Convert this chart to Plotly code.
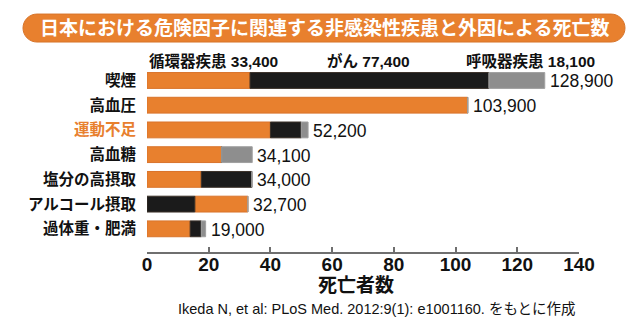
import plotly.graph_objects as go

# ---- data (thousands of deaths) ----
categories = ['喫煙', '高血圧', '運動不足', '高血糖', '塩分の高摂取', 'アルコール摂取', '過体重・肥満']
circulatory = [33.4, 103.9, 40.0, 24.2, 17.6, 17.2, 14.0]
cancer = [77.4, 0.0, 10.0, 0.0, 16.4, 15.5, 3.6]
respiratory = [18.1, 0.0, 2.2, 9.9, 0.0, 0.0, 1.4]
totals = [128.9, 103.9, 52.2, 34.1, 34.0, 32.7, 19.0]
total_labels = ['128,900', '103,900', '52,200', '34,100', '34,000', '32,700', '19,000']
# stacking order per row (alcohol starts with cancer)
stack_order = [['c', 'k', 'r'], ['c', 'k', 'r'], ['c', 'k', 'r'], ['c', 'k', 'r'],
               ['c', 'k', 'r'], ['k', 'c', 'r'], ['c', 'k', 'r']]
legend_labels = ['循環器疾患 33,400', 'がん 77,400', '呼吸器疾患 18,100']
title_text = '日本における危険因子に関連する非感染性疾患と外因による死亡数'
x_title = '死亡者数'
source_text = 'Ikeda N, et al: PLoS Med. 2012:9(1): e1001160. をもとに作成'
x_ticks = [0, 20, 40, 60, 80, 100, 120, 140]

ORANGE = '#E8802E'
BLACK = '#1b1b1b'
GRAY = '#8e8e8e'
FONT = 'Liberation Sans, Arial, Noto Sans CJK JP, sans-serif'

series = {'c': (circulatory, ORANGE, '#d9732a'),
          'k': (cancer, BLACK, '#3a3028'),
          'r': (respiratory, GRAY, '#a0a0a0')}

# compute bases from stacking order
bases = {k: [0.0] * len(categories) for k in series}
for i, order in enumerate(stack_order):
    acc = 0.0
    for k in order:
        bases[k][i] = acc
        acc += series[k][0][i]

W, H = 638, 331
L, R_PX, TOP, BOT = 147, 579, 60, 252.2
ML, MR, MT, MB = L, W - R_PX, TOP, H - BOT
PW, PH = R_PX - L, BOT - TOP


def px(x):
    return (x - L) / PW


def py(y):
    return (BOT - y) / PH


fig = go.Figure()
for k in ['c', 'k', 'r']:
    vals, col, lc = series[k]
    fig.add_trace(go.Bar(
        y=categories, x=vals, base=bases[k], orientation='h',
        marker=dict(color=col, line=dict(color=lc, width=1)),
        width=0.64, showlegend=False, hoverinfo='skip'))

ticktext = []
for c in categories:
    if c == '運動不足':
        ticktext.append(f'<span style="color:{ORANGE}">{c}</span>')
    else:
        ticktext.append(c)

annotations = []
for c, t, lab in zip(categories, totals, total_labels):
    annotations.append(dict(x=t, y=c, xref='x', yref='y', text=lab, showarrow=False,
                            xanchor='left', yanchor='middle', xshift=3, yshift=-1,
                            font=dict(size=17.5, color='#111', family=FONT)))

# legend-like labels above the first bar
leg_pos = [(147, 'left'), (368, 'center'), (597, 'right')]
for lab, (x, anc) in zip(legend_labels, leg_pos):
    annotations.append(dict(x=px(x), y=py(61), xref='paper', yref='paper', text=lab,
                            showarrow=False, xanchor=anc, yanchor='middle',
                            font=dict(size=15.5, color='#111', family=FONT, weight='bold')))

annotations.append(dict(x=px(324), y=py(28), xref='paper', yref='paper', text=title_text,
                        showarrow=False, xanchor='center', yanchor='middle',
                        font=dict(size=19, color='white', family=FONT, weight='bold')))
annotations.append(dict(x=px(356), y=py(286), xref='paper', yref='paper', text=x_title,
                        showarrow=False, xanchor='center', yanchor='middle',
                        font=dict(size=19, color='#111', family=FONT, weight='bold')))
annotations.append(dict(x=px(176), y=py(309), xref='paper', yref='paper', text=source_text,
                        showarrow=False, xanchor='left', yanchor='middle',
                        font=dict(size=14.5, color='#111', family=FONT)))

# title pill
x0, x1, y0, y1 = 23, 625, 14, 42
r = (y1 - y0) / 2
k = 0.5523 * r
ym = (y0 + y1) / 2


def P(x, y):
    return f'{px(x):.5f},{py(y):.5f}'


path = (f'M {P(x0 + r, y0)} L {P(x1 - r, y0)} '
        f'C {P(x1 - r + k, y0)} {P(x1, ym - k)} {P(x1, ym)} '
        f'C {P(x1, ym + k)} {P(x1 - r + k, y1)} {P(x1 - r, y1)} '
        f'L {P(x0 + r, y1)} '
        f'C {P(x0 + r - k, y1)} {P(x0, ym + k)} {P(x0, ym)} '
        f'C {P(x0, ym - k)} {P(x0 + r - k, y0)} {P(x0 + r, y0)} Z')

fig.update_layout(
    width=W, height=H, margin=dict(l=ML, r=MR, t=MT, b=MB, pad=0),
    paper_bgcolor='white', plot_bgcolor='white', barmode='overlay',
    font=dict(family=FONT),
    shapes=[dict(type='path', path=path, xref='paper', yref='paper',
                 fillcolor=ORANGE, line=dict(color='#d7742a', width=1), layer='above')],
    annotations=annotations,
    xaxis=dict(range=[0, 140], tickvals=x_ticks, ticktext=[str(v) for v in x_ticks],
               showgrid=False, zeroline=False, showline=True, linecolor='#6f6f6f', linewidth=1.6,
               ticks='inside', ticklen=5, tickwidth=1.5, tickcolor='#6f6f6f',
               ticklabelstandoff=-6,
               tickfont=dict(size=19, color='#111', family=FONT, weight='bold'),
               fixedrange=True),
    yaxis=dict(categoryorder='array', categoryarray=categories[::-1],
               range=[-0.937, 6.828], tickvals=categories, ticktext=ticktext,
               showgrid=False, zeroline=False, showline=False, ticks='',
               ticklabelstandoff=10,
               tickfont=dict(size=15.5, color='#111', family=FONT, weight='bold'),
               fixedrange=True),
)

fig.write_html('out.html')
